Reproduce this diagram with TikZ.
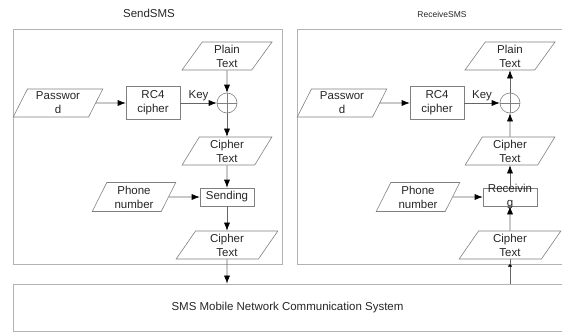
\documentclass[tikz,border=0pt]{standalone}
\usepackage{fontspec}
\setmainfont{Liberation Sans}
\usetikzlibrary{shapes.geometric,arrows.meta}
\begin{document}
\begin{tikzpicture}[x=1pt,y=-1pt,>={Latex[length=8pt,width=6pt,color=black]},
  font=\fontsize{11.5}{14}\selectfont,color=gray!80!black,line width=0.6pt,
  every node/.style={text=black!85},
  frame/.style={draw=gray!60,line width=0.8pt},
  data/.style={trapezium,trapezium left angle=65,trapezium right angle=115,
    trapezium stretches=true,draw=gray,minimum width=90pt,minimum height=28pt,
    inner sep=0pt,align=center},
  proc/.style={rectangle,draw=gray,minimum width=54pt,minimum height=33pt,
    inner sep=0pt,align=center},
  xor/.style={circle,draw=gray,minimum size=20pt,inner sep=0pt,
    path picture={\draw[gray] (path picture bounding box.north) -- (path picture bounding box.south)
      (path picture bounding box.west) -- (path picture bounding box.east);}}]
\useasboundingbox (0,0) rectangle (562,332);
\clip (0,0) rectangle (562,332);
% sending side
\coordinate (PT1) at (227,56);
\coordinate (X1) at (227,103);
\coordinate (PW1) at (58,103);
\coordinate (RC1) at (153,103);
\coordinate (CT1) at (227,151);
\coordinate (SND) at (227,197);
\coordinate (PH1) at (134,197);
\coordinate (CB1) at (227,245);
% receiving side
\coordinate (PT2) at (510,56);
\coordinate (X2) at (510,103);
\coordinate (PW2) at (342,103);
\coordinate (RC2) at (437,103);
\coordinate (CT2) at (510,151);
\coordinate (RCV) at (510,197);
\coordinate (PH2) at (418,197);
\coordinate (CB2) at (510,245);
\coordinate (F2) at (510,264);
% frames
\draw[frame] (13,29) rectangle (282,264);
\draw[frame] (297,29) rectangle (580,264);
\node[frame,draw,minimum width=567pt,minimum height=47pt,inner sep=0pt,
  label={[xshift=-9pt]center:SMS Mobile Network Communication System}]
  (sms) at (296.5,307.5) {};
\node (t1) at (149,13) {SendSMS};
\node[font=\fontsize{8.5}{10}\selectfont] (t2) at (442,14) {ReceiveSMS};
% send
\node[data] (pt1) at (PT1) {Plain\\Text};
\node[xor] (x1) at (X1) {};
\node[data] (pw1) at (PW1) {Passwor\\d};
\node[proc] (rc1) at (RC1) {RC4\\cipher};
\node[data] (ct1) at (CT1) {Cipher\\Text};
\node[proc,minimum height=18pt] (snd) at (SND) {Sending};
\node[data,minimum width=84pt,minimum height=29pt] (ph1) at (PH1) {Phone\\number};
\node[data,minimum width=102pt] (cb1) at (CB1) {Cipher\\Text};
\draw[->] (pw1) -- (rc1);
\draw[->] (rc1) -- node[above,inner sep=1.5pt] {Key} (x1);
\draw[->] (pt1) -- (x1);
\draw[->] (x1) -- (ct1);
\draw[->] (ct1) -- (snd);
\draw[->] (ph1) -- (snd);
\draw[->] (snd) -- (cb1);
\draw[->] (cb1) -- (cb1 |- sms.north);
% receive
\node[data] (pt2) at (PT2) {Plain\\Text};
\node[xor] (x2) at (X2) {};
\node[data] (pw2) at (PW2) {Passwor\\d};
\node[proc] (rc2) at (RC2) {RC4\\cipher};
\node[data] (ct2) at (CT2) {Cipher\\Text};
\node[proc,minimum height=18pt,label={[align=center]center:Receivin\\g}] (rcv) at (RCV) {};
\node[data,minimum width=84pt,minimum height=29pt] (ph2) at (PH2) {Phone\\number};
\node[data,minimum width=102pt] (cb2) at (CB2) {Cipher\\Text};
\draw[->] (pw2) -- (rc2);
\draw[->] (rc2) -- node[above,inner sep=1.5pt] {Key} (x2);
\draw[->] (x2) -- (pt2);
\draw[->] (ct2) -- (x2);
\draw[->] (rcv) -- (ct2);
\draw[->] (ph2) -- (rcv);
\draw[->] (cb2) -- (rcv);
\draw[-{Latex[length=2.5pt,width=5pt,color=black]}] (sms.north -| F2) -- (F2);
\draw (F2) -- (cb2);
\end{tikzpicture}
\end{document}
